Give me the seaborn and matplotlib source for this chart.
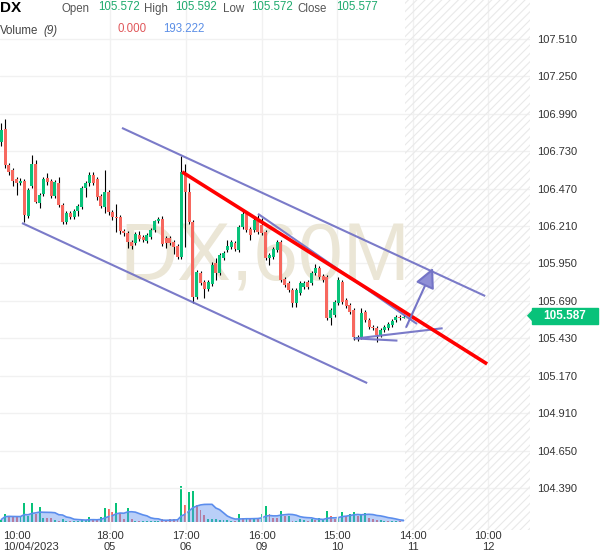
import numpy as np
import pandas as pd
import matplotlib
matplotlib.use('Agg')
import matplotlib.pyplot as plt
import matplotlib.transforms as mtransforms
from matplotlib.patches import Rectangle, Polygon
import seaborn as sns

# DX 60-minute candles
opens = [
    106.794, 106.885, 106.634, 106.600, 106.537, 106.509, 106.523, 106.280, 106.489, 106.641,
    106.370, 106.433, 106.544, 106.523, 106.419, 106.509, 106.356, 106.238, 106.301, 106.273,
    106.315, 106.343, 106.475, 106.509, 106.565, 106.537, 106.419, 106.343, 106.447, 106.308,
    106.273, 106.273, 106.176, 106.162, 106.099, 106.092, 106.148, 106.134, 106.106, 106.134,
    106.183, 106.245, 106.259, 106.127, 106.127, 106.099, 106.072, 105.995, 106.579, 106.447,
    106.238, 105.717, 105.884, 105.821, 105.773, 105.807, 105.954, 105.884, 105.988, 106.044,
    106.065, 106.092, 106.044, 106.204, 106.294, 106.190, 106.183, 106.245, 106.218, 106.169,
    105.988, 105.995, 106.044, 106.099, 105.842, 105.815, 105.766, 105.675, 105.745, 105.787,
    105.821, 105.815, 105.884, 105.919, 105.863, 105.856, 105.571, 105.592, 105.675, 105.821,
    105.696, 105.662, 105.627, 105.432, 105.439, 105.613, 105.557, 105.509, 105.502, 105.453,
    105.488, 105.502, 105.523, 105.557, 105.578, 105.572]
closes = [
    106.878, 106.634, 106.586, 106.523, 106.509, 106.523, 106.287, 106.461, 106.641, 106.377,
    106.426, 106.537, 106.516, 106.419, 106.516, 106.356, 106.238, 106.301, 106.273, 106.315,
    106.349, 106.475, 106.509, 106.565, 106.509, 106.412, 106.349, 106.447, 106.308, 106.273,
    106.266, 106.176, 106.162, 106.099, 106.072, 106.155, 106.120, 106.113, 106.148, 106.183,
    106.245, 106.259, 106.085, 106.092, 106.092, 106.065, 105.995, 106.586, 106.447, 106.238,
    105.717, 105.891, 105.815, 105.773, 105.821, 105.940, 105.884, 106.009, 106.023, 106.072,
    106.099, 106.051, 106.204, 106.294, 106.183, 106.148, 106.252, 106.169, 106.162, 105.988,
    106.009, 106.051, 106.099, 105.835, 105.801, 105.766, 105.675, 105.766, 105.815, 105.815,
    105.787, 105.884, 105.919, 105.856, 105.835, 105.571, 105.627, 105.682, 105.835, 105.682,
    105.655, 105.613, 105.439, 105.439, 105.606, 105.557, 105.509, 105.502, 105.453, 105.488,
    105.509, 105.530, 105.550, 105.578, 105.571, 105.577]
highs = [
    106.926, 106.954, 106.648, 106.614, 106.551, 106.544, 106.537, 106.475, 106.704, 106.669,
    106.440, 106.551, 106.579, 106.537, 106.530, 106.551, 106.370, 106.315, 106.315, 106.329,
    106.363, 106.489, 106.523, 106.586, 106.586, 106.551, 106.433, 106.600, 106.461, 106.322,
    106.363, 106.287, 106.190, 106.176, 106.113, 106.169, 106.176, 106.148, 106.162, 106.197,
    106.252, 106.273, 106.280, 106.141, 106.141, 106.113, 106.085, 106.697, 106.641, 106.509,
    106.252, 105.905, 105.898, 105.835, 105.835, 105.961, 105.988, 106.023, 106.037, 106.113,
    106.113, 106.106, 106.218, 106.322, 106.308, 106.204, 106.266, 106.287, 106.266, 106.183,
    106.023, 106.065, 106.113, 106.113, 105.856, 105.828, 105.780, 105.780, 105.828, 105.828,
    105.835, 105.898, 105.947, 105.933, 105.877, 105.870, 105.641, 105.696, 105.856, 105.835,
    105.710, 105.675, 105.641, 105.453, 105.641, 105.627, 105.571, 105.523, 105.516, 105.502,
    105.523, 105.543, 105.564, 105.592, 105.592, 105.592]
lows = [
    106.766, 106.613, 106.565, 106.489, 106.426, 106.495, 106.238, 106.266, 106.475, 106.370,
    106.336, 106.419, 106.495, 106.405, 106.405, 106.343, 106.224, 106.224, 106.259, 106.259,
    106.280, 106.329, 106.412, 106.489, 106.495, 106.391, 106.336, 106.301, 106.287, 106.252,
    106.169, 106.155, 106.141, 106.058, 106.051, 106.078, 106.106, 106.099, 106.092, 106.120,
    106.169, 106.231, 106.072, 106.058, 106.078, 106.016, 105.981, 105.981, 106.065, 106.224,
    105.675, 105.703, 105.801, 105.710, 105.759, 105.794, 105.835, 105.870, 105.974, 106.030,
    106.051, 106.037, 106.030, 106.190, 106.169, 106.113, 106.169, 106.155, 106.148, 105.974,
    105.940, 105.981, 106.030, 105.821, 105.787, 105.752, 105.648, 105.648, 105.731, 105.773,
    105.773, 105.801, 105.870, 105.842, 105.821, 105.557, 105.523, 105.578, 105.662, 105.669,
    105.641, 105.599, 105.418, 105.411, 105.425, 105.543, 105.495, 105.488, 105.404, 105.439,
    105.474, 105.488, 105.509, 105.543, 105.557, 105.572]
volumes = [
    320, 1230, 910, 750, 750, 750, 2990, 910, 2990, 1170,
    2350, 640, 640, 640, 270, 160, 430, 160, 160, 160,
    160, 270, 270, 750, 270, 270, 750, 2190, 2080, 1550,
    2990, 1330, 480, 2190, 480, 160, 160, 160, 160, 160,
    160, 160, 370, 270, 370, 370, 370, 5710, 2720, 4750,
    4910, 2720, 1920, 1120, 480, 370, 430, 270, 270, 270,
    160, 160, 1230, 590, 590, 430, 430, 430, 1230, 2510,
    1230, 640, 640, 1710, 960, 960, 160, 160, 480, 270,
    160, 370, 270, 590, 480, 1710, 910, 480, 750, 1550,
    910, 1280, 1550, 960, 1280, 1440, 640, 370, 270, 270,
    160, 160, 160, 160, 160, 0]
# volume bar colour: g = up, r = down
vol_dir = list("ggrrrggggr" "ggrrgrggrg" "ggggrrggrr" "grrgrgrggg" "ggrrrrrgrg"
               "grrrgggggg" "grgrgrgrgg" "rrrgrgrggg" "rgrgggrrgg" "rggrggrrrg" "grggrg")

price_ticks = [107.510, 107.250, 106.990, 106.730, 106.470, 106.210, 105.950,
               105.690, 105.430, 105.170, 104.910, 104.650, 104.390]
time_pos = [0.4, 28.3, 48.2, 68.0, 87.7, 107.4, 127.1]
time_labels = ['10:00\n10/04/2023', '18:00\n05', '17:00\n06', '16:00\n09',
               '15:00\n10', '14:00\n11', '10:00\n12']

# drawn trend lines (bar index, price)
upper_channel = ([31.5, 126.3], [106.892, 105.724])
lower_channel = ([5.4, 95.5], [106.231, 105.119])
red_trend = ([47.2, 126.8], [106.586, 105.252])
inner_trend = ([67.0, 108.5], [106.295, 105.530])
base_flat = ([91.9, 103.4], [105.430, 105.414])
base_rise = ([92.9, 115.2], [105.430, 105.500])
arrow_from = (105.7, 105.509)
arrow_to = (112.7, 105.919)
tag_price = 105.587

GREEN = '#08c27a'
RED = '#f7685f'
PURPLE = '#7474c6'

sns.set_theme(style='white')
plt.rcParams['font.family'] = ['Liberation Sans', 'DejaVu Sans']
plt.rcParams['hatch.linewidth'] = 0.8

df = pd.DataFrame({'open': opens, 'high': highs, 'low': lows,
                   'close': closes, 'volume': volumes, 'vdir': vol_dir})
df['bar'] = np.arange(len(df))
df['ma'] = df['volume'].rolling(9, min_periods=1).mean()

fig = plt.figure(figsize=(6, 5.58), dpi=100)
ax = fig.add_axes([0, 28 / 558, 530 / 600, 530 / 558])
axv = ax.twinx()
ax.set_zorder(2)
axv.set_zorder(1)
ax.patch.set_alpha(0)

x_max = 138.0
ax.set_xlim(-0.34, x_max)
ax.set_ylim(104.098, 107.781)

# grid
for p in price_ticks:
    ax.axhline(p, color='#f1f1f1', lw=1, zorder=0)
for t in time_pos[1:]:
    ax.axvline(t, color='#f1f1f1', lw=1, zorder=0)

# future area hatch
ax.axvspan(len(df) - 0.5, x_max, facecolor='none', edgecolor='#e9e9e9',
           hatch='////', lw=0, zorder=0)

# watermark
ax.text(68.9, 105.981, 'DX,60M', fontsize=58, color='#ebe6d6', ha='center',
        va='center', zorder=0.5, family=['Liberation Sans', 'DejaVu Sans'])

# candles
up = df['close'] >= df['open']
ax.vlines(df['bar'], df['low'], df['high'], color='black', lw=0.8, zorder=2)
body_bottom = np.minimum(df['open'], df['close'])
body_h = np.maximum((df['close'] - df['open']).abs(), 0.006)
ax.bar(df['bar'], body_h, bottom=body_bottom, width=0.78,
       color=np.where(up, GREEN, RED), lw=0, zorder=3)

# trend lines
for xs, ys in [upper_channel, lower_channel, inner_trend, base_flat, base_rise]:
    ax.plot(xs, ys, color=PURPLE, lw=1.5, alpha=0.95, zorder=4,
            solid_capstyle='butt')
ax.plot(*red_trend, color='#ff0000', lw=2.6, zorder=5, solid_capstyle='butt')
ax.annotate('', xy=arrow_to, xytext=arrow_from, zorder=5,
            arrowprops=dict(arrowstyle='-|>,head_length=1.0,head_width=0.5',
                            lw=1.5, color=PURPLE, fc='#8f8fd6', shrinkA=0, shrinkB=0))

# volume pane
vcol = np.where(df['vdir'] == 'g', GREEN, RED)
axv.bar(df['bar'], df['volume'], width=0.5, color=vcol, lw=0, zorder=1)
axv.fill_between(df['bar'], df['ma'], color='#6496f0', alpha=0.45, lw=0, zorder=2)
sns.lineplot(data=df, x='bar', y='ma', ax=axv, color='#5b8ded', lw=1.2, zorder=3)
axv.set_ylim(-1360, 83440)
axv.set_yticks([])
axv.set_ylabel('')
axv.set_xlabel('')

# axes styling
for a in (ax, axv):
    for s in a.spines.values():
        s.set_visible(False)
ax.yaxis.tick_right()
ax.set_yticks(price_ticks)
ax.set_yticklabels([f'{p:.3f}' for p in price_ticks])
ax.tick_params(axis='y', length=0, pad=5, labelsize=8, labelcolor='#333333')
ax.set_xticks(time_pos)
ax.set_xticklabels(time_labels, linespacing=1.05)
ax.tick_params(axis='x', length=0, pad=1, labelsize=8, labelcolor='#333333')
ax.get_xticklabels()[0].set_ha('left')
ax.grid(False)
axv.grid(False)

# last price tag
blend = mtransforms.blended_transform_factory(ax.transAxes, ax.transData)
ax.add_patch(Rectangle((1.004, tag_price - 0.056), 0.1245, 0.112, transform=blend,
                       color=GREEN, clip_on=False, zorder=6))
ax.add_patch(Polygon([(0.996, tag_price), (1.005, tag_price + 0.035),
                      (1.005, tag_price - 0.035)], closed=True, transform=blend,
                     color=GREEN, clip_on=False, zorder=6))
ax.text(1.066, tag_price, f'{tag_price:.3f}', transform=blend, ha='center',
        va='center', color='white', fontsize=8.5, fontweight='bold', zorder=7)

# header legend
def px(x, y):
    return x / 600, 1 - y / 558

fig.text(*px(0, 12.5), 'DX', fontsize=11, fontweight='bold', color='black', va='baseline')
header = [(61.5, 'Open', '#555555'), (98, '105.572', '#1eaa6e'),
          (144, 'High', '#555555'), (175.5, '105.592', '#1eaa6e'),
          (222.5, 'Low', '#555555'), (251.5, '105.572', '#1eaa6e'),
          (297, 'Close', '#555555'), (336.5, '105.577', '#1eaa6e')]
for x, s, c in header:
    y = 12 if c == '#555555' else 10
    fig.text(*px(x, y), s, fontsize=8.3, color=c, va='baseline')
fig.text(*px(0, 34), 'Volume', fontsize=8.3, color='#444444', va='baseline')
fig.text(*px(43, 34), '(9)', fontsize=8.3, color='#444444', va='baseline', style='italic')
fig.text(*px(117, 32), '0.000', fontsize=8.3, color='#e0575a', va='baseline')
fig.text(*px(163, 32), '193.222', fontsize=8.3, color='#5b8ee6', va='baseline')

fig.savefig('out.png', dpi=100)
